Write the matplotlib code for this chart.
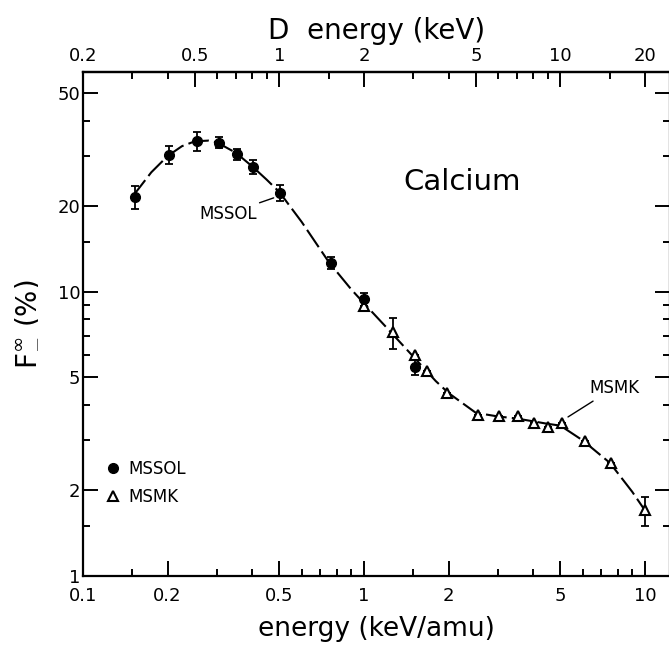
import matplotlib
matplotlib.use("Agg")
import matplotlib.pyplot as plt
from matplotlib.ticker import FixedLocator, FixedFormatter, NullFormatter
from matplotlib.lines import Line2D

# ---------------- data ----------------
mssol_x = [0.153, 0.202, 0.254, 0.306, 0.354, 0.404, 0.504, 0.76, 1.0, 1.52]
mssol_y = [21.6, 30.3, 33.9, 33.4, 30.4, 27.5, 22.3, 12.6, 9.4, 5.45]
mssol_err = [2.0, 2.2, 2.6, 1.5, 1.3, 1.5, 1.5, 0.6, 0.5, 0.35]

msmk_x = [1.0, 1.27, 1.52, 1.67, 1.98, 2.55, 3.03, 3.54, 4.04, 4.53, 5.05, 6.12, 7.57, 10.0]
msmk_y = [8.9, 7.2, 5.99, 5.28, 4.39, 3.68, 3.65, 3.66, 3.46, 3.35, 3.46, 2.99, 2.50, 1.70]
msmk_err = [0.0, 0.9, 0.0, 0.0, 0.0, 0.0, 0.0, 0.0, 0.0, 0.0, 0.0, 0.0, 0.0, 0.2]

curve_x = [0.15, 0.175, 0.2, 0.225, 0.25, 0.28, 0.3, 0.35, 0.4, 0.45, 0.5, 0.6, 0.75,
           0.9, 1.0, 1.2, 1.5, 1.8, 2.0, 2.5, 3.0, 3.5, 4.0, 4.5, 5.0, 6.0, 7.5, 9.0, 10.0]
curve_y = [21.6, 26.3, 30.0, 32.5, 33.8, 34.0, 33.5, 30.8, 27.6, 24.8, 22.4, 17.6, 12.7,
           10.2, 9.1, 7.5, 5.9, 4.85, 4.4, 3.75, 3.64, 3.58, 3.5, 3.43, 3.38, 3.0, 2.5, 1.98, 1.70]

x_major = [0.1, 0.2, 0.5, 1, 2, 5, 10]
x_major_labels = ["0.1", "0.2", "0.5", "1", "2", "5", "10"]
x_minor = [0.15, 0.3, 0.4, 0.6, 0.7, 0.8, 0.9, 1.5, 3, 4, 6, 7, 8, 9]

top_major = [0.2, 0.5, 1, 2, 5, 10, 20]
top_major_labels = ["0.2", "0.5", "1", "2", "5", "10", "20"]
top_minor = [0.3, 0.4, 0.6, 0.7, 0.8, 0.9, 1.5, 3, 4, 6, 7, 8, 9, 15]

y_major = [1, 2, 5, 10, 20, 50]
y_major_labels = ["1", "2", "5", "10", "20", "50"]
y_minor = [1.5, 3, 4, 6, 7, 8, 9, 15, 30, 40]

plt.rcParams['font.family'] = ['DejaVu Sans']

W, H = 669, 652
fig = plt.figure(figsize=(W / 100, H / 100), dpi=100)
L, R, T, B = 83, 670, 72, 576
ax = fig.add_axes([L / W, 1 - B / H, (R - L) / W, (B - T) / H])
ax.set_xscale('log')
ax.set_yscale('log')
ax.set_xlim(0.1, 10 ** ((R - L) / 281.0 - 1))
ax.set_ylim(1, 10 ** ((B - T) / 284.3))

# curve
ax.plot(curve_x, curve_y, color='black', lw=1.5, dashes=(10, 2.5), zorder=2)

# error bars
ax.errorbar(mssol_x, mssol_y, yerr=mssol_err, fmt='none', ecolor='black',
            elinewidth=1.3, capsize=3, capthick=1.3, zorder=3)
ax.errorbar(msmk_x, msmk_y, yerr=msmk_err, fmt='none', ecolor='black',
            elinewidth=1.3, capsize=3, capthick=1.3, zorder=3)

# markers
ax.plot(msmk_x, msmk_y, linestyle='none', marker='^', ms=7, mfc='white',
        mec='black', mew=1.5, zorder=4, label='MSMK')
ax.plot(mssol_x, mssol_y, linestyle='none', marker='o', ms=7, mfc='black',
        mec='black', zorder=5, label='MSSOL')

# ticks
for s in ax.spines.values():
    s.set_linewidth(1.6)
ax.xaxis.set_major_locator(FixedLocator(x_major))
ax.xaxis.set_major_formatter(FixedFormatter(x_major_labels))
ax.xaxis.set_minor_locator(FixedLocator(x_minor))
ax.xaxis.set_minor_formatter(NullFormatter())
ax.yaxis.set_major_locator(FixedLocator(y_major))
ax.yaxis.set_major_formatter(FixedFormatter(y_major_labels))
ax.yaxis.set_minor_locator(FixedLocator(y_minor))
ax.yaxis.set_minor_formatter(NullFormatter())
ax.tick_params(which='both', direction='in', top=False, right=True, labelsize=13,
               width=1.4)
ax.tick_params(which='major', length=11)
ax.tick_params(which='minor', length=5)
ax.tick_params(axis='x', which='major', pad=8)
ax.tick_params(axis='y', which='major', pad=2)

sec = ax.secondary_xaxis('top', functions=(lambda x: 2 * x, lambda x: x / 2))
sec.xaxis.set_major_locator(FixedLocator(top_major))
sec.xaxis.set_major_formatter(FixedFormatter(top_major_labels))
sec.xaxis.set_minor_locator(FixedLocator(top_minor))
sec.xaxis.set_minor_formatter(NullFormatter())
sec.tick_params(which='both', direction='in', labelsize=13, width=1.4)
sec.tick_params(which='major', length=11, pad=5)
sec.tick_params(which='minor', length=5)
sec.spines['top'].set_linewidth(1.6)
sec.set_xlabel('D  energy (keV)', fontsize=20, labelpad=6)

ax.set_xlabel('energy (keV/amu)', fontsize=19, labelpad=8)
ax.set_ylabel(r'$\mathrm{F}_{-}^{\infty}$ (%)', fontsize=20, labelpad=14)

# annotations
ax.text(2.23, 24.3, 'Calcium', fontsize=21, ha='center', va='center')
ax.annotate('MSSOL', xy=(0.498, 21.7), xytext=(0.328, 18.8), fontsize=12,
            ha='center', va='center',
            arrowprops=dict(arrowstyle='-', color='black', lw=1.0,
                            shrinkA=0, shrinkB=4))
ax.annotate('MSMK', xy=(5.12, 3.54), xytext=(7.76, 4.59), fontsize=12,
            ha='center', va='center',
            arrowprops=dict(arrowstyle='-', color='black', lw=1.0,
                            shrinkA=2, shrinkB=4))

handles = [Line2D([], [], linestyle='none', marker='o', ms=7, mfc='black', mec='black'),
           Line2D([], [], linestyle='none', marker='^', ms=7, mfc='white', mec='black', mew=1.5)]
ax.legend(handles, ['MSSOL', 'MSMK'], loc='upper left', bbox_to_anchor=(0.012, 0.26),
          frameon=False, fontsize=12, handletextpad=0.4, labelspacing=0.6,
          handlelength=1.0)

fig.savefig('out.png', dpi=100)
